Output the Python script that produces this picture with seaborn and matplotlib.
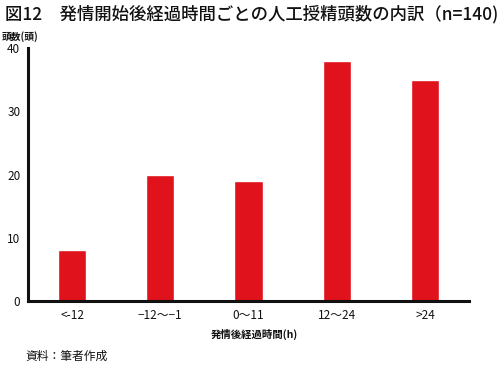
import matplotlib.pyplot as plt
import seaborn as sns
import pandas as pd

# data
categories = ["<-12", "\u221212\uff5e\u22121", "0\uff5e11", "12\uff5e24", ">24"]
counts = [8, 20, 19, 38, 35]

df = pd.DataFrame({"time": categories, "count": counts})

sns.set_style("white")
plt.rcParams["font.family"] = ["Noto Sans CJK JP", "DejaVu Sans"]

fig = plt.figure(figsize=(4.98, 3.65), dpi=100)
ax = fig.add_axes([0.0562, 0.1753, 0.8856, 0.6932])

sns.barplot(data=df, x="time", y="count", color="#E0121B", saturation=1,
            width=0.32, ax=ax)

ax.set_xlim(-0.5, 4.5)
ax.set_ylim(0, 40)
ax.set_yticks([0, 10, 20, 30, 40])
ax.set_xlabel("")
ax.set_ylabel("")

for s in ["top", "right"]:
    ax.spines[s].set_visible(False)
for s in ["left", "bottom"]:
    ax.spines[s].set_linewidth(2.2)
    ax.spines[s].set_color("#111111")

ax.tick_params(axis="y", direction="inout", length=5, width=1.5, labelsize=8.5, pad=3, colors="#111111")
ax.tick_params(axis="x", length=0, labelsize=8.5, pad=6, colors="#111111")

fig.text(0.01, 0.96, "図12\u3000発情開始後経過時間ごとの人工授精頭数の内訳（n=140)",
         fontsize=12.5, fontweight="medium", va="center", ha="left", color="#111111")
fig.text(0.004, 0.90, "頭数(頭)", fontsize=7, fontweight="bold", va="center", ha="left", color="#111111")
fig.text(0.51, 0.085, "発情後経過時間(h)", fontsize=7.5, fontweight="bold", va="center", ha="center", color="#111111")
fig.text(0.052, 0.025, "資料：筆者作成", fontsize=8.5, va="center", ha="left", color="#111111")

fig.savefig("out.png", dpi=100)
